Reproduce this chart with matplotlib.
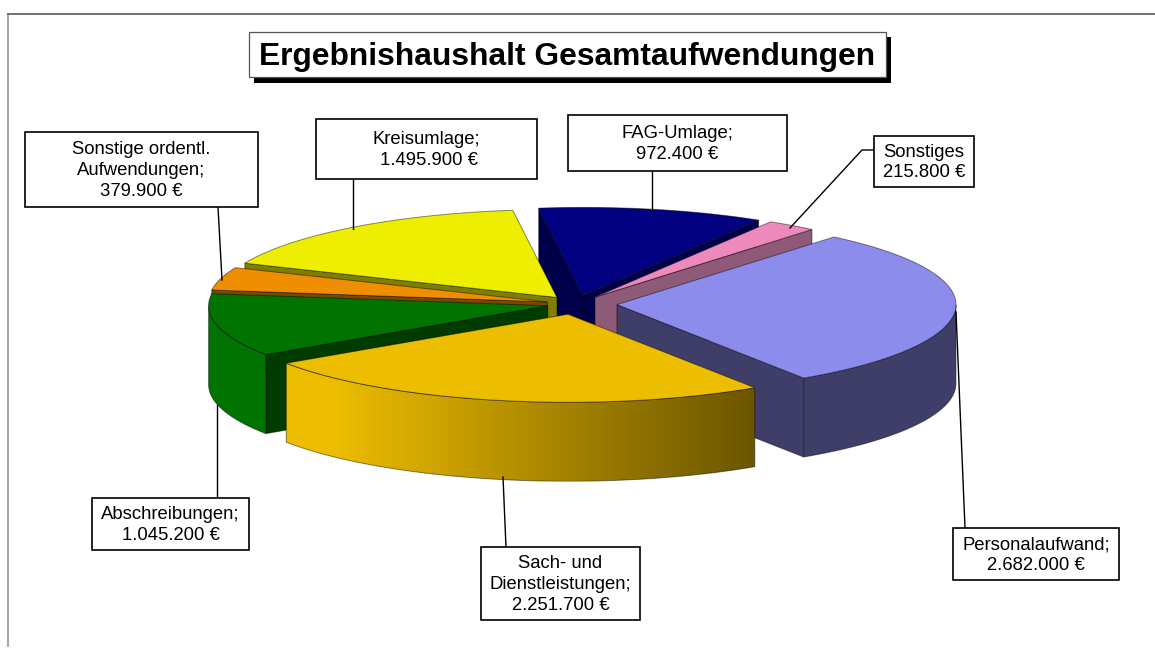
import numpy as np
import matplotlib
matplotlib.use("Agg")
import matplotlib.pyplot as plt
from matplotlib.patches import Polygon, Rectangle
from matplotlib.colors import LinearSegmentedColormap

plt.rcParams['font.family'] = ['Liberation Sans', 'DejaVu Sans']

# --- data ---
names = ["Personalaufwand;", "Sach- und\nDienstleistungen;", "Abschreibungen;",
         "Sonstige ordentl.\nAufwendungen;", "Kreisumlage;", "FAG-Umlage;", "Sonstiges"]
values = [2682000, 2251700, 1045200, 379900, 1495900, 972400, 215800]
title = "Ergebnishaushalt Gesamtaufwendungen"

# --- style ---
top_cols = ["#8C8CEC", "#EDBD00", "#007300", "#EE8E00", "#EEEE00", "#000080", "#EE8ABB"]
wall_cols = ["#3E3E68", "#EDBD00", "#003B00", "#7A4800", "#7E7E00", "#00004A", "#8E5A78"]
side_cols = ["#3E3E68", None, "#007300", "#7A4800", "#7E7E00", "#00004A", "#8E5A78"]
explode = [0.121, 0.119, 0.086, 0.087, 0.0925, 0.1, 0.0965]
draw_order = [5, 6, 4, 3, 2, 0, 1]
cx, cy, rx, ry, depth = 576, 304, 339, 88, 79
start_angle = 50.2
boxes = [(953, 528, 1119, 580), (481, 547, 640, 620), (92, 498, 249, 550),
         (25, 132, 258, 207), (316, 119, 537, 179), (568, 115, 787, 171), (874, 136, 974, 187)]
leaders = [[(965, 528), (956, 312)], [(506, 547), (503, 477)], [(217, 498), (217, 405)],
           [(218, 207), (222, 280)], [(353, 179), (353, 229)], [(652, 171), (652, 211)],
           [(874, 150), (862, 150), (790, 228)]]

fig = plt.figure(figsize=(11.55, 6.48), dpi=100, facecolor="white")
ax = fig.add_axes([0, 0, 1, 1])
ax.set_xlim(0, 1155)
ax.set_ylim(648, 0)
ax.axis("off")

# frame
ax.plot([7.5, 7.5], [647, 13.5], color="#a8a8a8", lw=1.5, solid_capstyle="butt", zorder=1)
ax.plot([7, 1155], [13.5, 13.5], color="#666666", lw=1.3, solid_capstyle="butt", zorder=1)

sweeps = 360 * np.array(values) / np.sum(values)
starts = start_angle - np.concatenate([[0], np.cumsum(sweeps)[:-1]])
ends = starts - sweeps
edge = dict(edgecolor=(0, 0, 0, 0.45), linewidth=0.7)
z = 2


def pt(tip, a):
    r = np.radians(a)
    return np.column_stack([tip[0] + rx * np.cos(r), tip[1] - ry * np.sin(r)])


gold = LinearSegmentedColormap.from_list("gold", [(0, "#EDBD00"), (0.1, "#EDBD00"), (1, "#6B5500")])

for i in draw_order:
    mid = (starts[i] + ends[i]) / 2
    mr = np.radians(mid)
    tip = (cx + explode[i] * rx * np.cos(mr), cy - explode[i] * ry * np.sin(mr))
    angs = np.linspace(starts[i], ends[i], 120)
    arc = pt(tip, angs)
    centre = arc[60]
    # radial walls, only those facing the viewer
    for p in (arc[0], arc[-1]):
        d = p - np.array(tip)
        interior = d[0] * (centre[1] - tip[1]) - d[1] * (centre[0] - tip[0])
        extrude = d[0] * depth
        if interior * extrude < 0:
            q = [tip, p, (p[0], p[1] + depth), (tip[0], tip[1] + depth)]
            ax.add_patch(Polygon(q, closed=True, facecolor=wall_cols[i], zorder=z, **edge))
            z += 1
    # outer rim: the front half of the ellipse only
    front = np.sin(np.radians(angs)) <= 0
    if front.any():
        a_f = arc[front]
        rim = np.vstack([a_f, (a_f + [0, depth])[::-1]])
        if side_cols[i] is None:
            poly = Polygon(rim, closed=True, facecolor="none", zorder=z + 1, **edge)
            ax.add_patch(poly)
            x0, x1 = rim[:, 0].min(), rim[:, 0].max()
            grad = np.linspace(0, 1, 256).reshape(1, -1)
            im = ax.imshow(grad, cmap=gold, extent=(x0, x1, rim[:, 1].max(), rim[:, 1].min()),
                           aspect="auto", zorder=z, interpolation="bilinear")
            clip = Polygon(rim, closed=True, transform=ax.transData)
            im.set_clip_path(clip)
            ax.set_xlim(0, 1155)
            ax.set_ylim(648, 0)
        else:
            ax.add_patch(Polygon(rim, closed=True, facecolor=side_cols[i], zorder=z, **edge))
        z += 2
    # top face
    ax.add_patch(Polygon(np.vstack([[tip], arc]), closed=True, facecolor=top_cols[i], zorder=z, **edge))
    z += 1

# leaders and labels
z = 100
for i, (name, v) in enumerate(zip(names, values)):
    pts = np.array(leaders[i])
    ax.plot(pts[:, 0], pts[:, 1], color="black", lw=1.0, zorder=z)
    x0, y0, x1, y1 = boxes[i]
    ax.add_patch(Rectangle((x0, y0), x1 - x0, y1 - y0, facecolor="white",
                           edgecolor="black", lw=1.2, zorder=z + 1))
    money = f"{v:,.0f}".replace(",", ".") + " €"
    lead = " " if name == "Kreisumlage;" else ""
    ax.text((x0 + x1) / 2, (y0 + y1) / 2 + 1, f"{name}\n{lead}{money}", ha="center", va="center",
            fontsize=13.3, linespacing=1.27, color="black", zorder=z + 2)

# title
ax.add_patch(Rectangle((254, 37), 637, 46, facecolor="black", edgecolor="none", zorder=120))
ax.add_patch(Rectangle((249, 32), 637, 45, facecolor="white", edgecolor="#555555", lw=0.9, zorder=121))
ax.text(567.5, 57.5, title, ha="center", va="center", fontsize=22.9, fontweight="bold",
        color="black", zorder=122)

fig.savefig("out.png", dpi=100, facecolor="white")
